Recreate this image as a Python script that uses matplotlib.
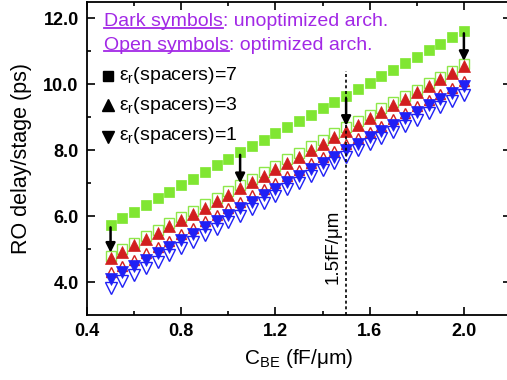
import numpy as np
import matplotlib
matplotlib.use("Agg")
import matplotlib.pyplot as plt
from matplotlib.lines import Line2D

plt.rcParams['font.family'] = ['Liberation Sans', 'DejaVu Sans']
plt.rcParams['mathtext.fontset'] = 'custom'
plt.rcParams['mathtext.rm'] = 'Liberation Sans'
plt.rcParams['mathtext.it'] = 'Liberation Sans:italic'

# =========================
# DATA
# =========================

c_be = [0.50, 0.55, 0.60, 0.65, 0.70, 0.75, 0.80, 0.85, 0.90, 0.95,
        1.00, 1.05, 1.10, 1.15, 1.20, 1.25, 1.30, 1.35, 1.40, 1.45,
        1.50, 1.55, 1.60, 1.65, 1.70, 1.75, 1.80, 1.85, 1.90, 1.95, 2.00]

# eps_r = 7, unoptimized / optimized
eps7_dark = [5.74, 5.94, 6.14, 6.34, 6.54, 6.74, 6.94, 7.14, 7.34, 7.54,
             7.74, 7.94, 8.13, 8.32, 8.51, 8.70, 8.89, 9.08, 9.27, 9.46,
             9.65, 9.85, 10.05, 10.25, 10.44, 10.64, 10.84, 11.04, 11.24, 11.44, 11.63]
eps7_open = [4.80, 5.00, 5.19, 5.39, 5.58, 5.78, 5.97, 6.17, 6.36, 6.56,
             6.75, 6.95, 7.14, 7.34, 7.53, 7.73, 7.92, 8.12, 8.31, 8.51,
             8.70, 8.89, 9.08, 9.27, 9.46, 9.65, 9.84, 10.03, 10.22, 10.42, 10.63]

# eps_r = 3
eps3_dark = [4.73, 4.92, 5.11, 5.30, 5.50, 5.69, 5.88, 6.07, 6.26, 6.46,
             6.65, 6.84, 7.03, 7.23, 7.42, 7.61, 7.81, 8.00, 8.19, 8.39,
             8.58, 8.78, 8.97, 9.17, 9.37, 9.56, 9.76, 9.96, 10.15, 10.35, 10.55]
eps3_open = [4.29, 4.48, 4.68, 4.87, 5.07, 5.26, 5.46, 5.65, 5.85, 6.04,
             6.24, 6.43, 6.63, 6.82, 7.01, 7.21, 7.40, 7.60, 7.79, 7.99,
             8.18, 8.37, 8.56, 8.75, 8.94, 9.14, 9.33, 9.52, 9.71, 9.90, 10.09]

# eps_r = 1
eps1_dark = [4.09, 4.29, 4.48, 4.68, 4.87, 5.07, 5.27, 5.46, 5.66, 5.85,
             6.05, 6.25, 6.44, 6.64, 6.83, 7.03, 7.23, 7.42, 7.62, 7.81,
             8.01, 8.20, 8.40, 8.59, 8.78, 8.98, 9.17, 9.36, 9.56, 9.75, 9.94]
eps1_open = [3.82, 4.02, 4.22, 4.42, 4.62, 4.82, 5.02, 5.22, 5.42, 5.62,
             5.82, 6.01, 6.21, 6.41, 6.61, 6.81, 7.01, 7.21, 7.41, 7.61,
             7.81, 8.00, 8.18, 8.37, 8.56, 8.74, 8.93, 9.12, 9.30, 9.49, 9.68]

arrow_x = [0.50, 1.05, 1.50, 2.00]
c_ref = 1.5

x_ticks = [0.4, 0.8, 1.2, 1.6, 2.0]
y_ticks = [4.0, 6.0, 8.0, 10.0, 12.0]
legend_labels = [r'ε$_{\mathrm{r}}$(spacers)=7',
                 r'ε$_{\mathrm{r}}$(spacers)=3',
                 r'ε$_{\mathrm{r}}$(spacers)=1']

GREEN = '#80e632'
GREEN_OPEN = '#8ee84a'
RED = '#d21f1f'
BLUE = '#2020f5'
PURPLE = '#a228e6'

# =========================
# FIGURE
# =========================

fig = plt.figure(figsize=(5.07, 3.80), dpi=100)
ax = fig.add_axes([87/507, 65/380, 424/507, 313/380])

# open symbols (optimized) underneath
ax.plot(c_be, eps7_open, 's', ms=7.0, mfc='none', mec=GREEN_OPEN, mew=1.0, ls='none')
ax.plot(c_be, eps3_open, '^', ms=6.8, mfc='none', mec=RED, mew=1.0, ls='none')
ax.plot(c_be, eps1_open, 'v', ms=8.2, mfc='none', mec=BLUE, mew=1.0, ls='none')
# dark symbols (unoptimized)
ax.plot(c_be, eps7_dark, 's', ms=7.0, mfc=GREEN, mec=GREEN, mew=0.5, ls='none')
ax.plot(c_be, eps3_dark, '^', ms=8.8, mfc=RED, mec=RED, mew=0.5, ls='none')
ax.plot(c_be, eps1_dark, 'v', ms=8.4, mfc=BLUE, mec=BLUE, mew=0.5, ls='none')

# arrows from unoptimized eps=7 to unoptimized eps=3
for xa in arrow_x:
    i = c_be.index(xa)
    ax.annotate('', xy=(xa, eps3_dark[i] + 0.16), xytext=(xa, eps7_dark[i] - 0.08),
                arrowprops=dict(arrowstyle='-|>', lw=1.8, color='k',
                                mutation_scale=14, shrinkA=0, shrinkB=0), zorder=5)

# reference line at 1.5 fF/um
ax.plot([c_ref, c_ref], [3.0, 10.4], color='k', lw=1.2, ls=(0, (1.8, 1.6)))
ax.text(1.445, 5.08, '1.5fF/μm', rotation=90, ha='center', va='center', fontsize=13.5)

ax.set_xlim(0.4, 2.2)
ax.set_ylim(3.0, 12.5)
ax.set_xticks(x_ticks)
ax.set_yticks(y_ticks)
ax.set_xticks(np.arange(0.6, 2.2, 0.4), minor=True)
ax.set_yticks(np.arange(5.0, 12.5, 2.0), minor=True)
ax.set_xticklabels([f'{v:.1f}' for v in x_ticks], fontweight='bold', fontsize=13)
ax.set_yticklabels([f'{v:.1f}' for v in y_ticks], fontweight='bold', fontsize=13)
ax.tick_params(which='both', direction='in', top=True, right=True, width=1.2)
ax.tick_params(which='major', length=5.5)
ax.tick_params(which='minor', length=3)
ax.tick_params(axis='y', pad=6)
ax.tick_params(axis='x', pad=6)
for s in ax.spines.values():
    s.set_linewidth(1.3)

ax.set_xlabel(r'C$_{\mathrm{BE}}$ (fF/μm)', fontsize=15, labelpad=5)
ax.set_ylabel('RO delay/stage (ps)', fontsize=15.5, labelpad=8)

# header notes with underlined keywords
t1 = ax.text(0.040, 0.923, 'Dark symbols', transform=ax.transAxes, color=PURPLE,
             fontsize=14, va='baseline', ha='left')
ax.annotate(': unoptimized arch.', xy=(1, 0), xycoords=t1, va='bottom', ha='left',
            color=PURPLE, fontsize=14)
t2 = ax.text(0.040, 0.847, 'Open symbols', transform=ax.transAxes, color=PURPLE,
             fontsize=14, va='baseline', ha='left')
ax.annotate(': optimized arch.', xy=(1, 0), xycoords=t2, va='bottom', ha='left',
            color=PURPLE, fontsize=14)

# symbol key
key_markers = ['s', '^', 'v']
key_sizes = [7.0, 8.5, 8.5]
key_y = [0.764, 0.671, 0.569]
text_y = [0.751, 0.655, 0.559]
for m, ms, yk, yt, lab in zip(key_markers, key_sizes, key_y, text_y, legend_labels):
    ax.plot([0.050], [yk], m, ms=ms, color='k', transform=ax.transAxes, clip_on=False)
    ax.text(0.076, yt, lab, transform=ax.transAxes, fontsize=14, va='baseline', ha='left')

# underline the keywords
fig.canvas.draw()
renderer = fig.canvas.get_renderer()
for t in (t1, t2):
    bb = t.get_window_extent(renderer)
    y_line = (bb.y0 + 2.5) / fig.bbox.height
    fig.add_artist(Line2D([bb.x0 / fig.bbox.width, bb.x1 / fig.bbox.width], [y_line, y_line],
                          color=PURPLE, lw=1.3, transform=fig.transFigure))

fig.savefig('out.png', dpi=100)
